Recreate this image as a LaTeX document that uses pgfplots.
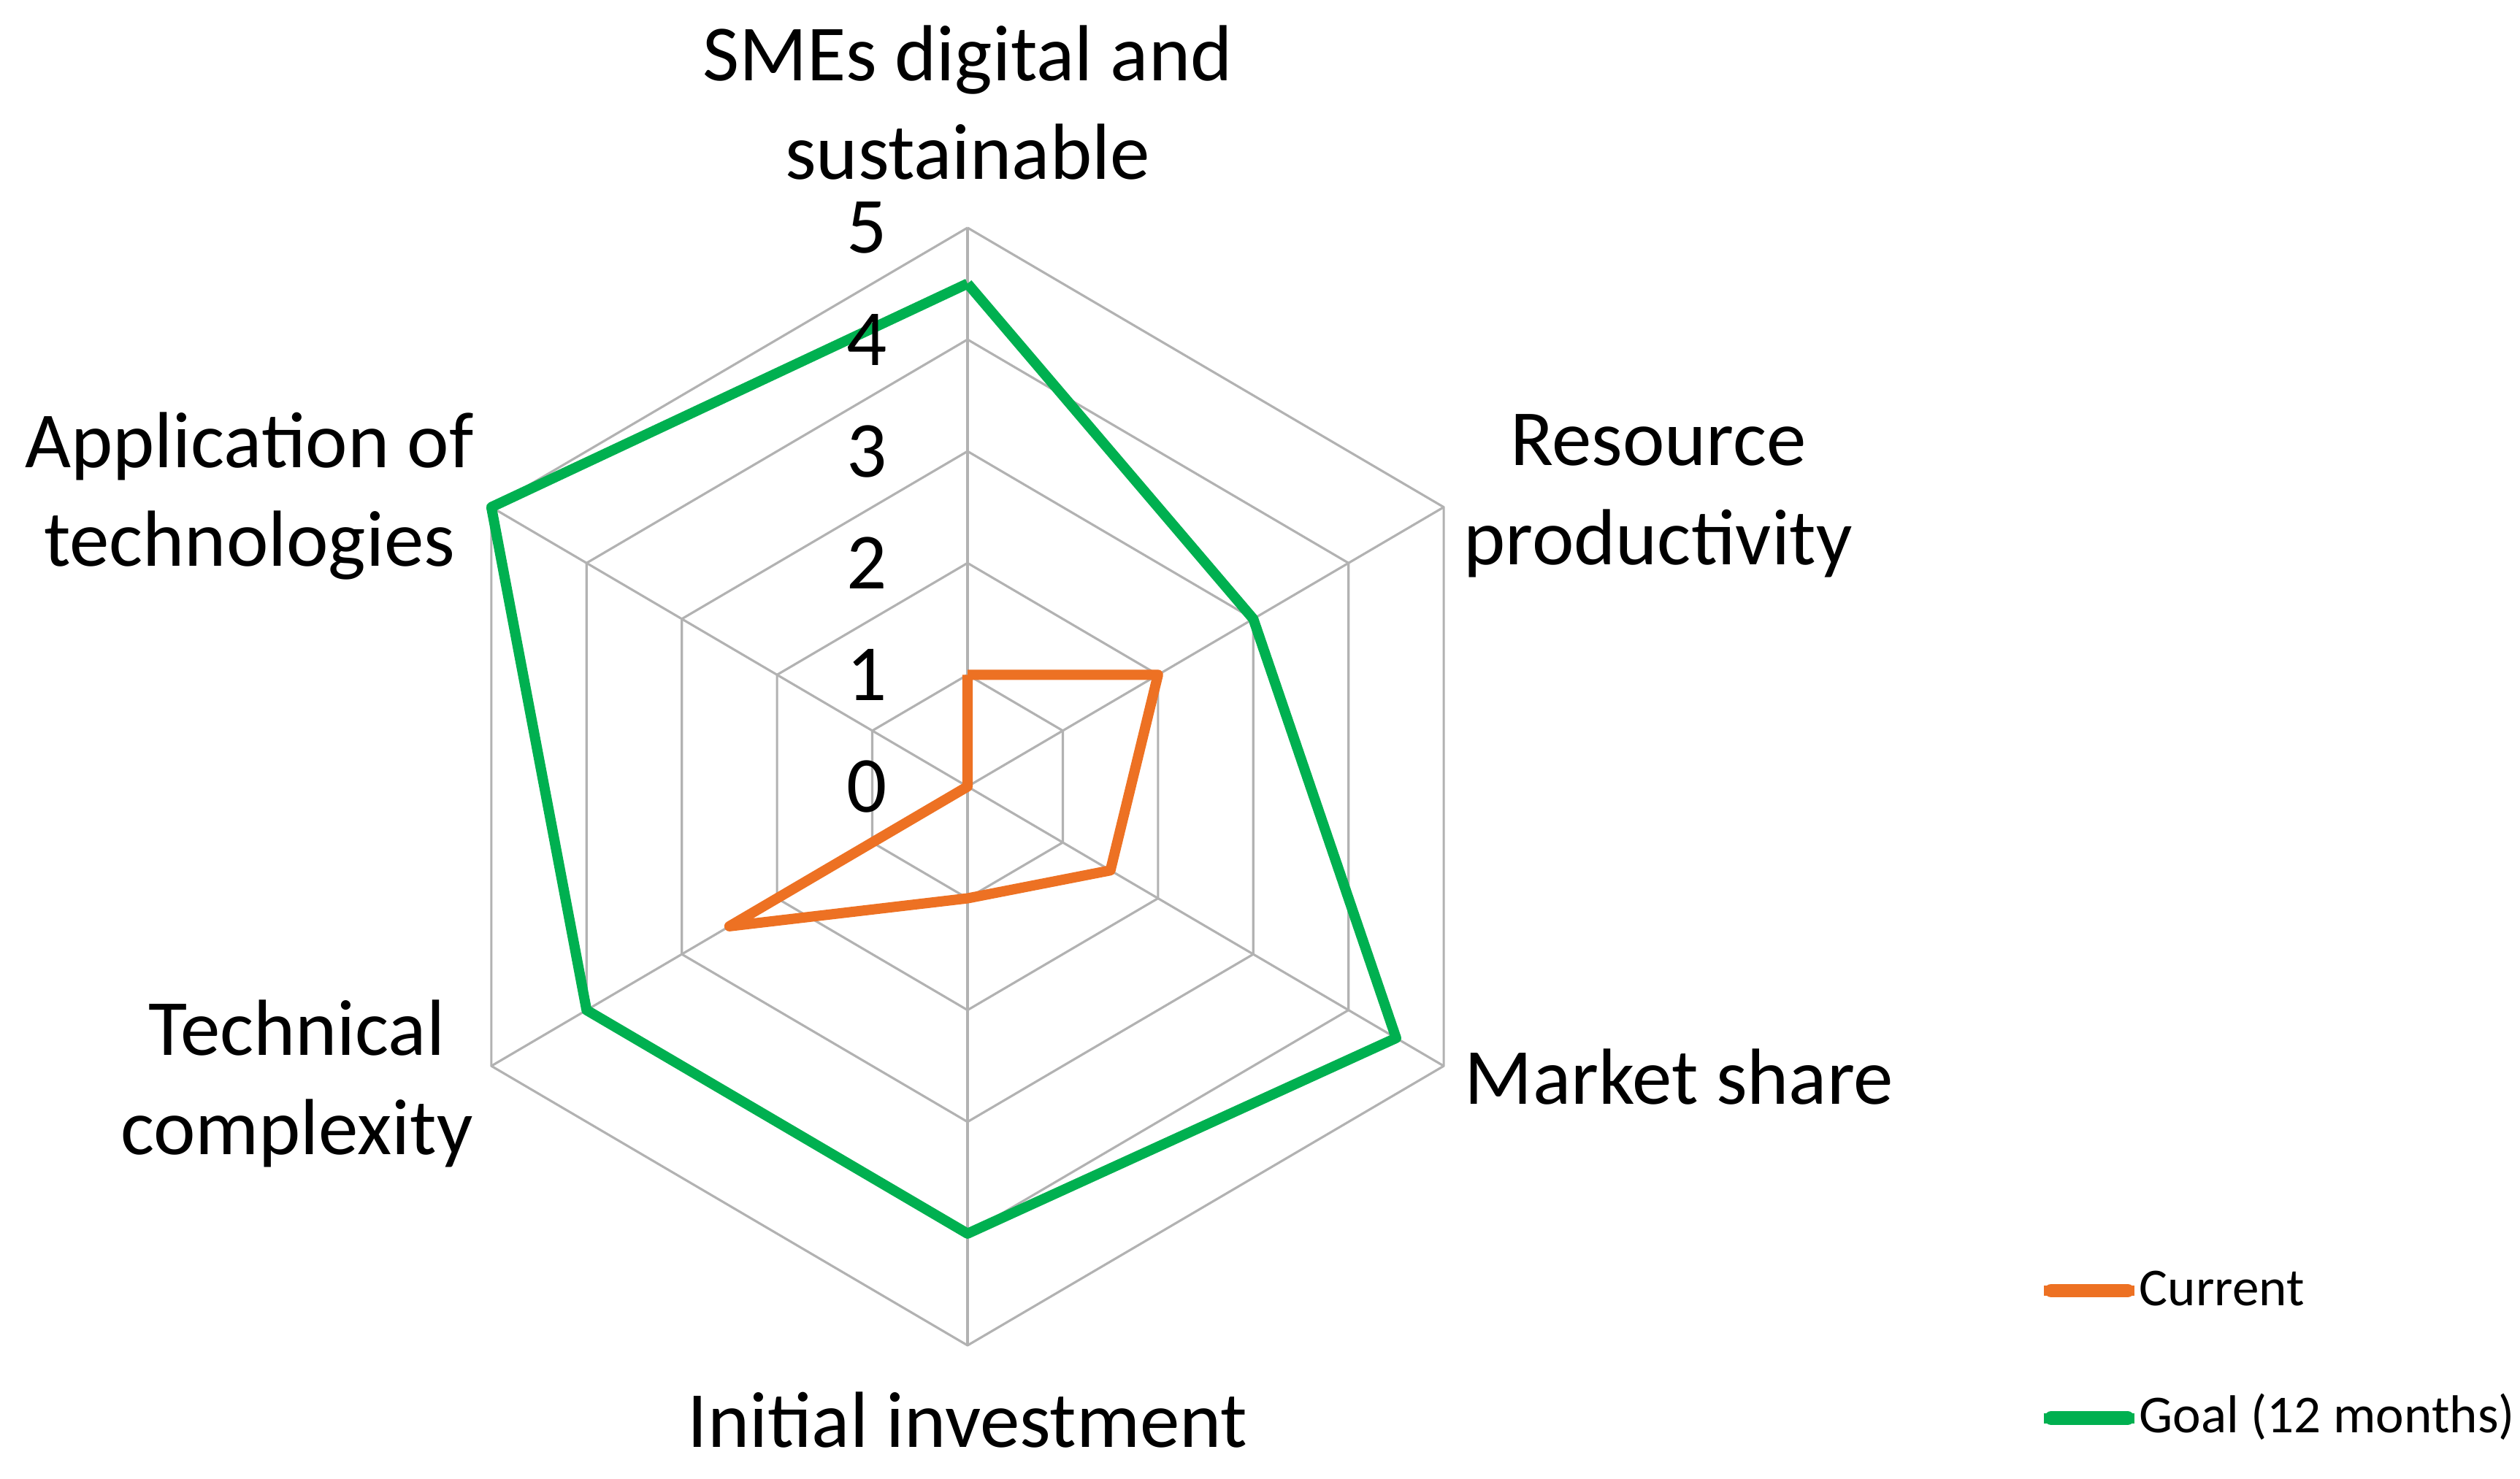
\documentclass[border=0pt]{standalone}
\usepackage{pgfplots}
\pgfplotsset{compat=1.18}
\usepackage{fontspec}
\setmainfont{Carlito}
\definecolor{gridc}{RGB}{178,178,178}
\definecolor{curc}{RGB}{237,113,35}
\definecolor{goalc}{RGB}{0,176,80}
\begin{document}
\begin{tikzpicture}
\begin{axis}[
  x=0.753cm, y=0.7655cm,
  xmin=-8.798, xmax=14.117, ymin=-6.195, ymax=7.038,
  hide axis, clip=false,
  every axis plot/.append style={line join=round},
  legend cell align=left,
  legend image code/.code={\path (0cm,0cm) -- (0.62cm,0cm); \draw[#1, line width=2.6pt, line cap=round] (0.05cm,0cm) -- (0.575cm,0cm);},
  legend style={at={(axis cs:9.73,-4.24)}, anchor=north west, draw=none, fill=none,
    inner sep=0pt, row sep=0.473cm,
    nodes={inner sep=0pt, text height=0.3cm, text depth=0.1cm, font=\fontsize{10.4}{12}\selectfont}},
]
\path (rel axis cs:0,0) rectangle (rel axis cs:1,1);
% grid: spokes
\addplot [gridc, line width=0.45pt, data cs=polar, forget plot] coordinates {(90,0) (90,5)};
\addplot [gridc, line width=0.45pt, data cs=polar, forget plot] coordinates {(30,0) (30,5)};
\addplot [gridc, line width=0.45pt, data cs=polar, forget plot] coordinates {(-30,0) (-30,5)};
\addplot [gridc, line width=0.45pt, data cs=polar, forget plot] coordinates {(-90,0) (-90,5)};
\addplot [gridc, line width=0.45pt, data cs=polar, forget plot] coordinates {(210,0) (210,5)};
\addplot [gridc, line width=0.45pt, data cs=polar, forget plot] coordinates {(150,0) (150,5)};
% grid: hexagons
\addplot [gridc, line width=0.45pt, data cs=polar, forget plot] coordinates {(90,1) (30,1) (-30,1) (-90,1) (210,1) (150,1) (90,1)};
\addplot [gridc, line width=0.45pt, data cs=polar, forget plot] coordinates {(90,2) (30,2) (-30,2) (-90,2) (210,2) (150,2) (90,2)};
\addplot [gridc, line width=0.45pt, data cs=polar, forget plot] coordinates {(90,3) (30,3) (-30,3) (-90,3) (210,3) (150,3) (90,3)};
\addplot [gridc, line width=0.45pt, data cs=polar, forget plot] coordinates {(90,4) (30,4) (-30,4) (-90,4) (210,4) (150,4) (90,4)};
\addplot [gridc, line width=0.45pt, data cs=polar, forget plot] coordinates {(90,5) (30,5) (-30,5) (-90,5) (210,5) (150,5) (90,5)};
% data
\addplot [curc, line width=2.0pt, data cs=polar] coordinates {(90,1) (30,2) (-30,1.5) (-90,1) (210,2.5) (150,0) (90,1)};
\addlegendentry{Current}
\addplot [goalc, line width=2.0pt, data cs=polar] coordinates {(90,4.5) (30,3) (-30,4.5) (-90,4) (210,4) (150,5) (90,4.5)};
\addlegendentry{Goal (12 months)}
% radial tick labels
\foreach \k in {0,...,5} {
  \edef\temp{\noexpand\node[anchor=east, inner sep=0pt, font=\noexpand\fontsize{15.5}{18}\noexpand\selectfont] at (axis cs:-0.72,\k) {\k};}
  \temp
}
% category labels
\begin{scope}[every node/.style={align=center, inner sep=0pt, font=\fontsize{15.5}{19.3}\selectfont}]
\node at (axis cs:0,6.12) {SMEs digital and\\sustainable};
\node at (axis cs:6.28,2.60) {Resource\\productivity};
\node at (axis cs:6.47,-2.60) {Market share};
\node at (axis cs:0,-5.67) {Initial investment};
\node at (axis cs:-6.10,-2.66) {Technical\\complexity};
\node at (axis cs:-6.53,2.60) {Application of\\technologies};
\end{scope}
\end{axis}
\end{tikzpicture}
\end{document}
